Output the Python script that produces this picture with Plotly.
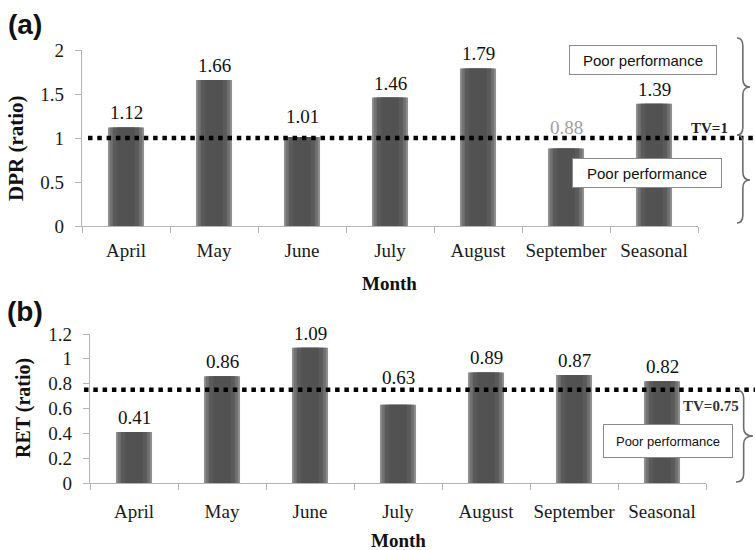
import plotly.graph_objects as go

# ---- data -------------------------------------------------------------
months = ["April", "May", "June", "July", "August", "September", "Seasonal"]
dpr_values = [1.12, 1.66, 1.01, 1.46, 1.79, 0.88, 1.39]
ret_values = [0.41, 0.86, 1.09, 0.63, 0.89, 0.87, 0.82]
dpr_target = 1.0
ret_target = 0.75
dpr_tickvals = [0, 0.5, 1, 1.5, 2]
dpr_ticktext = ["0", "0.5", "1", "1.5", "2"]
ret_tickvals = [0, 0.2, 0.4, 0.6, 0.8, 1.0, 1.2]
ret_ticktext = ["0", "0.2", "0.4", "0.6", "0.8", "1", "1.2"]

# ---- layout helpers ----------------------------------------------------
W, H = 755, 550
SERIF = "Liberation Serif, Times New Roman, serif"
SANS = "Liberation Sans, Arial, sans-serif"
AXIS_GREY = "#b4b4b4"


def px(x):
    return x / W


def py(y):
    return 1 - y / H


# shaded bars: several overlaid bars of shrinking width fake a cylinder look
bar_layers = [(0.41, "#929292"), (0.37, "#727272"), (0.30, "#5b5b5b"), (0.20, "#525252")]

fig = go.Figure()
for values, xa, ya in [(dpr_values, "x", "y"), (ret_values, "x2", "y2")]:
    for width, colour in bar_layers:
        fig.add_trace(go.Bar(
            x=months, y=values, width=width, xaxis=xa, yaxis=ya,
            marker=dict(color=colour, line=dict(width=0)),
            showlegend=False, hoverinfo="skip",
        ))

# value labels above each bar (a few sit a little higher to clear the threshold line)
annotations = []
label_lift = {
    "dpr": {"June": 6, "September": 7},
    "ret": {"July": 13},
}
label_colour = {"dpr": {"September": "#a0a0a0"}, "ret": {}}
for key, values, xr, yr in [("dpr", dpr_values, "x", "y"), ("ret", ret_values, "x2", "y2")]:
    for m, v in zip(months, values):
        annotations.append(dict(
            x=m, y=v, xref=xr, yref=yr, text=f"{v:.2f}", showarrow=False,
            xanchor="center", yanchor="bottom", yshift=2 + label_lift[key].get(m, 0),
            font=dict(family=SERIF, size=19, color=label_colour[key].get(m, "#111111")),
        ))


def label(x, y, text, size, family=SERIF, angle=0, colour="#111", **kw):
    d = dict(x=px(x), y=py(y), xref="paper", yref="paper", text=text, showarrow=False,
             textangle=angle, xanchor="center", yanchor="middle",
             font=dict(family=family, size=size, color=colour))
    d.update(kw)
    return d


# axis titles
annotations += [
    label(16, 148, "<b>DPR (ratio)</b>", 21, angle=-90),
    label(23, 408, "<b>RET (ratio)</b>", 20, angle=-90),
    label(389, 283, "<b>Month</b>", 19),
    label(398, 540, "<b>Month</b>", 19),
]

# panel letters
annotations += [
    label(25, 25, "<b>(a)</b>", 28, family=SANS),
    label(25, 311, "<b>(b)</b>", 28, family=SANS),
]

# threshold labels
annotations += [
    dict(x=px(709), y=dpr_target, xref="paper", yref="y", text="<b>TV=1</b>",
         showarrow=False, xanchor="center", yanchor="bottom", yshift=0,
         font=dict(family=SERIF, size=15, color="#222")),
    dict(x=px(711), y=ret_target, xref="paper", yref="y2", text="<b>TV=0.75</b>",
         showarrow=False, xanchor="center", yanchor="top", yshift=-6,
         font=dict(family=SERIF, size=15, color="#333")),
]

# "Poor performance" boxes
for cx, cy, w, h, fs in [(643, 60, 148, 30, 15), (647, 173, 150, 30, 15), (668, 441, 130, 34, 13)]:
    annotations.append(label(
        cx, cy, "Poor performance", fs, family=SANS,
        width=w - 2, height=h - 2, borderpad=0, borderwidth=1,
        bordercolor="#8a8a8a", bgcolor="white",
    ))


def brace(x0, xt, ya, yb, ym, r=8):
    xm = x0 + (xt - x0) * 0.45
    pts = [
        ("M", [(x0, ya)]),
        ("Q", [(xm, ya), (xm, ya + r)]),
        ("L", [(xm, ym - r)]),
        ("Q", [(xm, ym), (xt, ym)]),
        ("Q", [(xm, ym), (xm, ym + r)]),
        ("L", [(xm, yb - r)]),
        ("Q", [(xm, yb), (x0, yb)]),
    ]
    path = ""
    for cmd, coords in pts:
        path += cmd + " " + " ".join(f"{px(a):.5f},{py(b):.5f}" for a, b in coords) + " "
    return dict(type="path", xref="paper", yref="paper", path=path.strip(),
                line=dict(color="#6e6e6e", width=1.6))


shapes = [
    dict(type="line", xref="paper", yref="y", x0=px(88), x1=1.0, y0=dpr_target, y1=dpr_target,
         line=dict(color="black", width=4.5, dash="4.5px,4.8px")),
    dict(type="line", xref="paper", yref="y2", x0=px(84), x1=1.0, y0=ret_target, y1=ret_target,
         line=dict(color="black", width=4.5, dash="4.5px,4.8px")),
    brace(737, 750, 38, 135, 87),
    brace(737, 750, 135, 223, 180),
    brace(736, 753, 390, 482, 436),
]

xaxis_style = dict(
    type="category", showline=True, linecolor=AXIS_GREY, linewidth=1.2,
    ticks="outside", tickson="boundaries", ticklen=6, tickcolor=AXIS_GREY,
    showgrid=False, zeroline=False, tickangle=0, automargin=False,
    tickfont=dict(family=SERIF, size=19, color="#1a1a1a"),
)
yaxis_style = dict(
    showline=True, linecolor=AXIS_GREY, linewidth=1.2, ticks="outside",
    ticklen=6, tickcolor=AXIS_GREY, showgrid=False, zeroline=False, automargin=False,
    ticklabelstandoff=7, tickfont=dict(family=SERIF, size=19, color="#1a1a1a"),
)

fig.update_layout(
    width=W, height=H, autosize=False,
    margin=dict(l=0, r=0, t=0, b=0),
    paper_bgcolor="white", plot_bgcolor="white",
    barmode="overlay", showlegend=False,
    xaxis=dict(xaxis_style, domain=[px(82), px(698)], anchor="y", ticklabelstandoff=7),
    yaxis=dict(yaxis_style, domain=[py(226), py(50)], anchor="x", range=[0, 2],
               tickvals=dpr_tickvals, ticktext=dpr_ticktext),
    xaxis2=dict(xaxis_style, domain=[px(90), px(706)], anchor="y2", ticklabelstandoff=11),
    yaxis2=dict(yaxis_style, domain=[py(483), py(334)], anchor="x2", range=[0, 1.2],
                tickvals=ret_tickvals, ticktext=ret_ticktext),
    annotations=annotations,
    shapes=shapes,
)

fig.write_html("out.html")
